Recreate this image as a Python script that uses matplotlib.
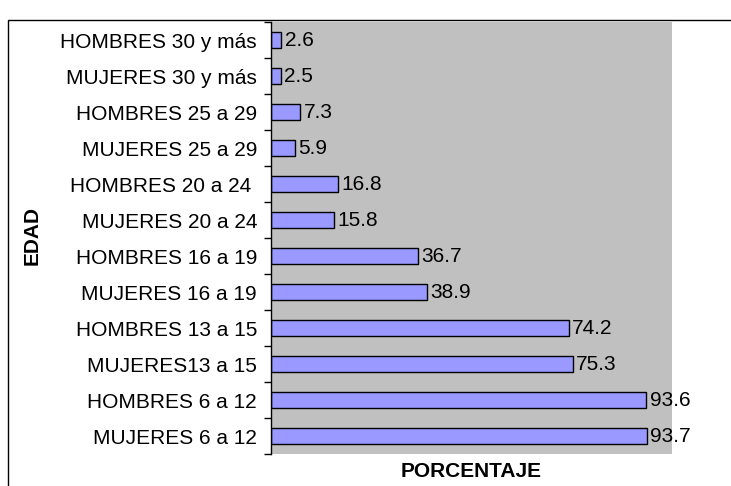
import numpy as np
import matplotlib.pyplot as plt
from matplotlib.patches import Rectangle

plt.rcParams['font.family'] = ['Liberation Sans', 'DejaVu Sans']

# categorias de abajo hacia arriba
categorias = ['MUJERES 6 a 12', 'HOMBRES 6 a 12', 'MUJERES13 a 15', 'HOMBRES 13 a 15',
              'MUJERES 16 a 19', 'HOMBRES 16 a 19', 'MUJERES 20 a 24', 'HOMBRES 20 a 24 ',
              'MUJERES 25 a 29', 'HOMBRES 25 a 29', 'MUJERES 30 y más', 'HOMBRES 30 y más']
porcentajes = [93.7, 93.6, 75.3, 74.2, 38.9, 36.7, 15.8, 16.8, 5.9, 7.3, 2.5, 2.6]

fig = plt.figure(figsize=(7.31, 4.86), dpi=100)
ax = fig.add_axes([271 / 731, 1 - 454 / 486, 401 / 731, 432 / 486])
ax.set_facecolor('#C0C0C0')

y = np.arange(len(categorias))
ax.barh(y, porcentajes, height=0.42, color='#9999FF', edgecolor='black', linewidth=1)

for yi, v in zip(y, porcentajes):
    ax.text(v + 0.8, yi, f'{v:.1f}', va='center', ha='left', fontsize=15)

ax.set_xlim(0, 100)
ax.set_ylim(-0.5, len(categorias) - 0.5)
ax.set_yticks(y)
ax.set_yticklabels(categorias, fontsize=15)
ax.tick_params(axis='y', which='major', length=0, pad=10)
ax.set_yticks(np.arange(-0.5, len(categorias)), minor=True)
ax.tick_params(axis='y', which='minor', length=5, direction='out', width=1)
ax.set_xticks([])

for s in ['top', 'right', 'bottom']:
    ax.spines[s].set_visible(False)
ax.spines['left'].set_linewidth(1)

fig.text(471 / 731, 1 - 471 / 486, 'PORCENTAJE', ha='center', va='center',
         fontsize=15, fontweight='bold')
fig.text(32 / 731, 1 - 235 / 486, 'EDAD', ha='center', va='center',
         rotation=90, fontsize=15, fontweight='bold')

# borde de la figura
fig.patches.append(Rectangle((8 / 731, -0.05), 1.0, 1 - 20 / 486 + 0.05,
                             transform=fig.transFigure, fill=False,
                             edgecolor='black', linewidth=1))

fig.savefig('out.png', dpi=100)
